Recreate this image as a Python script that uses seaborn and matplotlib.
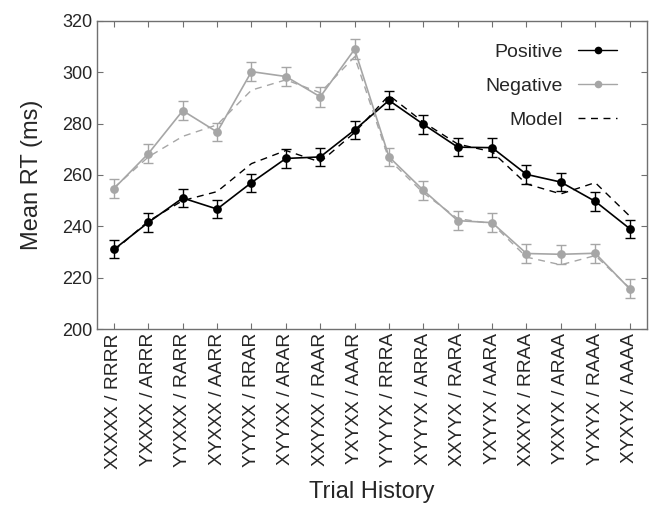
import numpy as np
import pandas as pd
import seaborn as sns
import matplotlib
matplotlib.use("Agg")
import matplotlib.pyplot as plt
from matplotlib.lines import Line2D

# Trial histories (stimulus sequence / response sequence)
histories = [
    "XXXXX / RRRR", "YXXXX / ARRR", "YYXXX / RARR", "XYXXX / AARR",
    "YYYXX / RRAR", "XYYXX / ARAR", "XXYXX / RAAR", "YXYXX / AAAR",
    "YYYYX / RRRA", "XYYYX / ARRA", "XXYYX / RARA", "YXYYX / AARA",
    "XXXYX / RRAA", "YXXYX / ARAA", "YYXYX / RAAA", "XYXYX / AAAA",
]

# Observed mean RTs (ms) and standard errors
positive_rt = [231, 241.5, 251, 246.7, 257, 266.4, 267, 277.5,
               289, 279.7, 270.8, 270.6, 260.2, 257.2, 249.7, 239.1]
positive_se = [3.5, 3.6, 3.5, 3.6, 3.5, 3.6, 3.5, 3.6,
               3.5, 3.6, 3.6, 3.6, 3.6, 3.6, 3.6, 3.5]
negative_rt = [254.7, 268.3, 285, 276.7, 300.2, 298.3, 290.4, 308.9,
               267, 254, 242.2, 241.4, 229.4, 229.1, 229.5, 215.7]
negative_se = [3.6, 3.8, 3.6, 3.6, 3.8, 3.6, 3.8, 3.9,
               3.6, 3.6, 3.6, 3.6, 3.6, 3.6, 3.6, 3.6]

# Model predictions (ms)
model_positive = [230.5, 242, 250, 253.5, 264.4, 269.5, 265, 276.5,
                  291, 280.5, 272, 269, 256.5, 252.6, 257, 244]
model_negative = [255, 267, 275, 279.5, 293, 297, 292, 306,
                  266, 253, 243, 241, 228, 225, 228.6, 216]

series_names = ["Positive", "Negative"]
colors = {"Positive": "#000000", "Negative": "#a6a6a6"}

x = np.arange(len(histories))
obs = pd.DataFrame({
    "pos": np.concatenate([x, x]),
    "rt": positive_rt + negative_rt,
    "se": positive_se + negative_se,
    "series": ["Positive"] * len(x) + ["Negative"] * len(x),
})
mod = pd.DataFrame({
    "pos": np.concatenate([x, x]),
    "rt": model_positive + model_negative,
    "series": ["Positive"] * len(x) + ["Negative"] * len(x),
})

sns.set_style("white")
plt.rcParams["font.family"] = ["Liberation Sans", "DejaVu Sans"]

fig = plt.figure(figsize=(6.54, 5.19), dpi=100)
ax = fig.add_axes([0.148, 0.366, 0.841, 0.594])

# model curves (dashed)
sns.lineplot(data=mod, x="pos", y="rt", hue="series", hue_order=series_names,
             palette=colors, ax=ax, legend=False, linewidth=1.0,
             dashes=False, linestyle=(0, (5, 4)), zorder=2)

# error bars
for name in series_names:
    sub = obs[obs["series"] == name]
    ax.errorbar(sub["pos"], sub["rt"], yerr=sub["se"], fmt="none",
                ecolor=colors[name], elinewidth=1.0, capsize=3.5, capthick=1.0,
                zorder=3)

# observed data
sns.lineplot(data=obs, x="pos", y="rt", hue="series", hue_order=series_names,
             palette=colors, ax=ax, legend=False, linewidth=1.2,
             marker="o", markersize=6.3, markeredgewidth=0, zorder=4)

ax.set_xlim(-0.5, 15.5)
ax.set_ylim(200, 320)
ax.set_yticks(np.arange(200, 321, 20))
ax.set_xticks(x)
ax.set_xticklabels(histories, rotation=90, fontsize=13.8)
ax.tick_params(axis="y", labelsize=13)
ax.tick_params(direction="in", length=4, width=0.8, color="#707070",
               top=True, right=True, bottom=True, left=True, pad=3)
for sp in ax.spines.values():
    sp.set_color("#707070")
    sp.set_linewidth(1.0)

ax.set_xlabel("Trial History", fontsize=17, labelpad=9)
ax.set_ylabel("Mean RT (ms)", fontsize=17, labelpad=14)

handles = [
    Line2D([], [], color=colors["Positive"], marker="o", markersize=5.5,
           linewidth=1.0, markeredgewidth=0),
    Line2D([], [], color=colors["Negative"], marker="o", markersize=5.5,
           linewidth=1.0, markeredgewidth=0),
    Line2D([], [], color="#000000", linewidth=1.0, linestyle=(0, (5, 4))),
]
ax.legend(handles, ["Positive", "Negative", "Model"], loc="upper right",
          bbox_to_anchor=(0.96, 0.952), borderaxespad=0, markerfirst=False,
          frameon=False, fontsize=14, handlelength=2.0, labelspacing=0.85,
          handletextpad=0.8)

fig.savefig("out.png", dpi=100)
